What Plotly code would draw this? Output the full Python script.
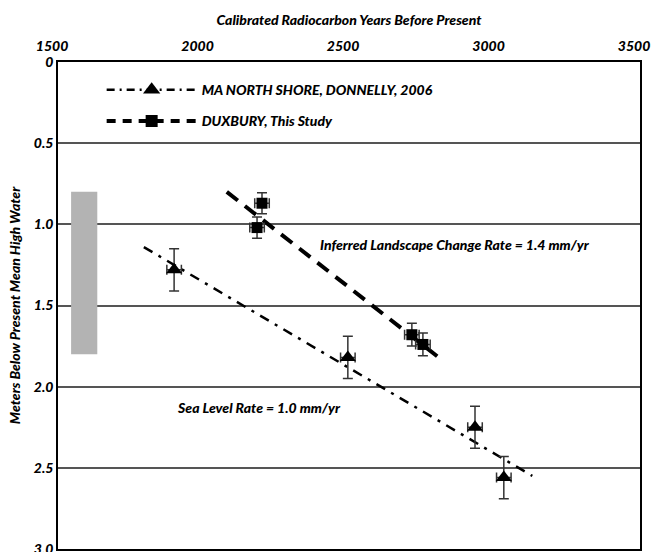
import plotly.graph_objects as go

# ---- data ----
ma_x = [1899, 2496, 2933, 3032]
ma_y = [1.28, 1.82, 2.25, 2.56]
ma_yerr = [0.13, 0.13, 0.13, 0.13]
ma_xerr = [25, 25, 25, 25]

dux_x = [2201, 2184, 2716, 2754]
dux_y = [0.87, 1.02, 1.68, 1.74]
dux_yerr = [0.065, 0.065, 0.07, 0.07]
dux_xerr = [25, 25, 25, 25]

ma_trend_x = [1795, 3130]
ma_trend_y = [1.14, 2.55]
dux_trend_x = [2080, 2812]
dux_trend_y = [0.80, 1.825]

bar_x = [1545, 1635]
bar_y = [0.8, 1.8]

x_ticks = [1500, 2000, 2500, 3000, 3500]
x_ticktext = ["1500", "2000", "2500", "3000", "3500"]
y_ticks = [0, 0.5, 1.0, 1.5, 2.0, 2.5, 3.0]
y_ticktext = ["0", "0.5", "1.0", "1.5", "2.0", "2.5", "3.0"]

FONT = "Lato"
bfont = dict(family=FONT, size=14, color="black", weight=900, style="italic")

fig = go.Figure()

# trend lines
fig.add_trace(go.Scatter(x=ma_trend_x, y=ma_trend_y, mode="lines",
                         line=dict(color="black", width=2.5, dash="10px,7px,3px,7px"),
                         showlegend=False, hoverinfo="skip"))
fig.add_trace(go.Scatter(x=dux_trend_x, y=dux_trend_y, mode="lines",
                         line=dict(color="black", width=4, dash="14px,9px"),
                         showlegend=False, hoverinfo="skip"))

# data points with error bars
fig.add_trace(go.Scatter(x=ma_x, y=ma_y, mode="markers",
                         marker=dict(symbol="triangle-up", size=14, color="black"),
                         error_y=dict(type="data", array=ma_yerr, color="#333", thickness=1.5, width=5),
                         error_x=dict(type="data", array=ma_xerr, color="#333", thickness=1.5, width=5),
                         showlegend=False))
fig.add_trace(go.Scatter(x=dux_x, y=dux_y, mode="markers",
                         marker=dict(symbol="square", size=11, color="black"),
                         error_y=dict(type="data", array=dux_yerr, color="#333", thickness=1.5, width=5),
                         error_x=dict(type="data", array=dux_xerr, color="#333", thickness=1.5, width=5),
                         showlegend=False))

# legend entries
fig.add_trace(go.Scatter(x=[None], y=[None], mode="lines+markers",
                         name="MA NORTH SHORE, DONNELLY, 2006", legendgroup="a",
                         marker=dict(symbol="triangle-up", size=15, color="black"),
                         line=dict(color="black", width=2.5, dash="8px,5px,2px,5px")))
fig.add_trace(go.Scatter(x=[None], y=[None], mode="lines+markers",
                         name="DUXBURY, This Study", legendgroup="b",
                         marker=dict(symbol="square", size=12, color="black"),
                         line=dict(color="black", width=4, dash="9px,7px")))

fig.add_shape(type="rect", xref="x", yref="y", x0=bar_x[0], x1=bar_x[1],
              y0=bar_y[0], y1=bar_y[1], fillcolor="#b3b3b3",
              line=dict(width=0), layer="above")

fig.add_annotation(x=2393, y=1.125, xref="x", yref="y", text="Inferred Landscape Change Rate = 1.4 mm/yr",
                   showarrow=False, xanchor="left", yanchor="middle", font=bfont)
fig.add_annotation(x=1902, y=2.13, xref="x", yref="y", text="Sea Level Rate = 1.0 mm/yr",
                   showarrow=False, xanchor="left", yanchor="middle", font=bfont)

fig.update_layout(
    width=651, height=552,
    margin=dict(l=58, r=11, t=62, b=3, autoexpand=False),
    paper_bgcolor="white", plot_bgcolor="white",
    font=bfont,
    legend=dict(x=0.075, y=0.975, xanchor="left", yanchor="top",
                bgcolor="rgba(255,255,255,0)", font=bfont,
                itemwidth=90, tracegroupgap=10, traceorder="grouped"),
    xaxis=dict(side="top", range=[1500, 3500], tickvals=x_ticks, ticktext=x_ticktext,
               showgrid=False, zeroline=False, ticks="", automargin=False,
               showline=True, linecolor="black", linewidth=1.5, mirror=True,
               tickfont=bfont, ticklabelstandoff=4, ticklabeloverflow="allow",
               ticklabelshift=-6,
               title=dict(text="Calibrated Radiocarbon Years Before Present", font=bfont, standoff=8)),
    yaxis=dict(range=[3, 0], tickvals=y_ticks, ticktext=y_ticktext,
               showgrid=True, gridcolor="#555", gridwidth=1.5, zeroline=False, ticks="",
               showline=True, linecolor="black", linewidth=1.5, mirror=True, automargin=False,
               tickfont=bfont, ticklabeloverflow="allow",
               title=dict(text="Meters Below Present Mean High Water", font=bfont, standoff=10)),
)

fig.write_html("out.html", config={"displayModeBar": False},
               post_script="document.body.style.margin='0px';document.body.style.overflow='hidden';")
